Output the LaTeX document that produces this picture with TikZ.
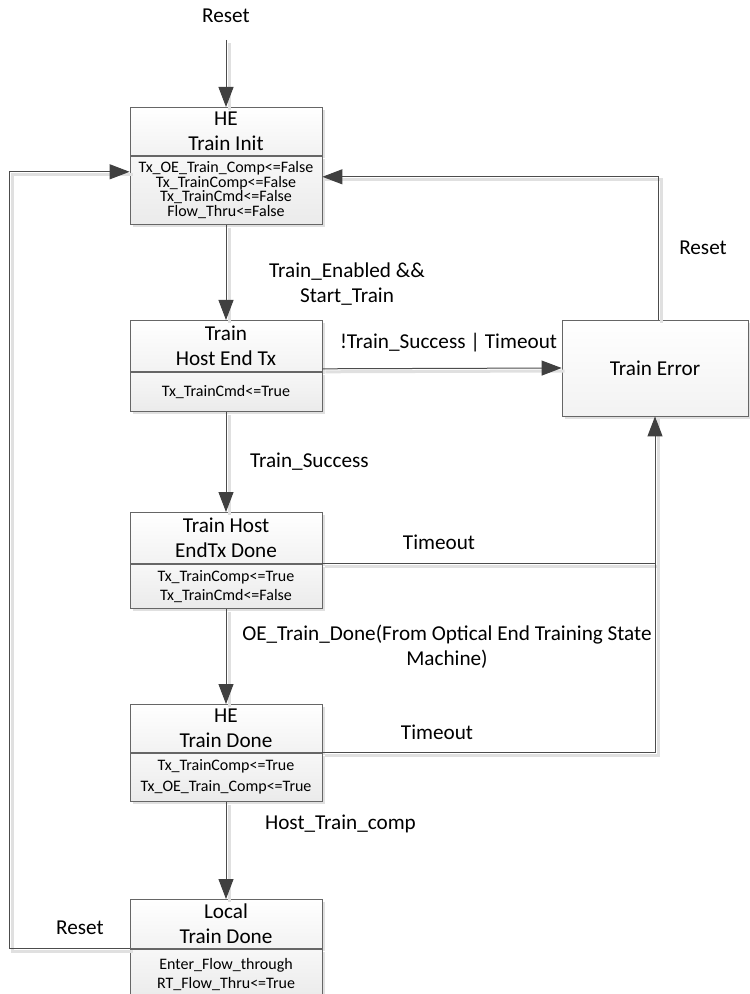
\documentclass[tikz,border=0pt]{standalone}
\usepackage{fontspec}
\setmainfont{Carlito}
\usetikzlibrary{arrows.meta,shadows}
\tikzset{
	titlebox/.style={draw=black!60, top color=white, bottom color=black!5, minimum width=96pt, inner sep=0pt, align=center, anchor=north, font=\fontsize{10.6}{12.5}\selectfont, drop shadow={shadow xshift=1.5pt, shadow yshift=-1.5pt, fill=black!12, opacity=1}},
	attrbox/.style={titlebox, top color=black!3, bottom color=black!8, font=\fontsize{8}{9.5}\selectfont},
	trans/.style={draw=black!70, line width=0.5pt, -{Triangle[length=10pt,width=7.5pt,fill=black!75,color=black!75]}, preaction={draw=black!12, line width=1.5pt, -, transform canvas={shift={(1.5pt,-1.5pt)}}}},
	link/.style={trans, -},
	lbl/.style={font=\fontsize{10.6}{12.5}\selectfont, align=center}
}
\begin{document}
\begin{tikzpicture}[x=0.5pt,y=-0.5pt]
	\useasboundingbox (0,0) rectangle (749,994);
	\node[titlebox, minimum height=24pt] (init) at (226,107) {HE\\Train Init};
	\node[attrbox, minimum height=34pt, font=\fontsize{8}{7.25}\selectfont] (initA) at (init.south) {Tx\_OE\_Train\_Comp<=False\\Tx\_TrainComp<=False\\Tx\_TrainCmd<=False\\Flow\_Thru<=False};
	\node[titlebox, minimum height=25.5pt] (host) at (226,320) {Train\\Host End Tx};
	\node[attrbox, minimum height=19.5pt] (hostA) at (host.south) {Tx\_TrainCmd<=True};
	\node[titlebox, minimum height=25.5pt] (txdone) at (226,512) {Train Host\\EndTx Done};
	\node[attrbox, minimum height=22pt] (txdoneA) at (txdone.south) {Tx\_TrainComp<=True\\Tx\_TrainCmd<=False};
	\node[titlebox, minimum height=24pt] (hedone) at (226,704) {HE\\Train Done};
	\node[attrbox, minimum height=24pt, font=\fontsize{8}{10.5}\selectfont] (hedoneA) at (hedone.south) {Tx\_TrainComp<=True\\Tx\_OE\_Train\_Comp<=True};
	\node[titlebox, minimum height=24.5pt] (local) at (226,899) {Local\\Train Done};
	\node[attrbox, minimum height=25pt] (localA) at (local.south) {Enter\_Flow\_through\\RT\_Flow\_Thru<=True};
	\node[titlebox, anchor=center, minimum width=93pt, minimum height=48pt] (error) at (655,368) {Train Error};

	\node[lbl] (reset) at (226,16) {Reset};
	\coordinate (resetin) at (226,40);
	\draw[trans] (resetin) -- (init);
	\draw[trans] (initA) -- (host);
	\draw[trans] (hostA) -- (txdone);
	\draw[trans] (txdoneA) -- (hedone);
	\draw[trans] (hedoneA) -- (local);
	\draw[trans] ([yshift=1.5pt]host.south east) -- (error.west);
	\draw[link] (txdone.south east) -- (txdone.south east -| error.south);
	\draw[trans] (hedone.south east) -| (error.south);
	\draw[trans] ([xshift=1.5pt]error.north) |- ([yshift=-10.5pt]initA.north east);
	\draw[trans] (local.south west) -- ++(-120,0) |- ([yshift=-8pt]initA.north west);

	\node[lbl] (lenable) at (347,284) {Train\_Enabled \&\&\\Start\_Train};
	\node[lbl, anchor=west] (lfail) at (333,343) {!Train\_Success | Timeout};
	\node[lbl, anchor=west] (lsuccess) at (243,462) {Train\_Success};
	\node[lbl] (ltimeouta) at (439,542) {Timeout};
	\node[lbl] (loedone) at (447,647) {OE\_Train\_Done(From Optical End Training State\\Machine)};
	\node[lbl] (ltimeoutb) at (437,732) {Timeout};
	\node[lbl, anchor=west] (lhostcomp) at (258,824) {Host\_Train\_comp};
	\node[lbl] (lresetl) at (80,928) {Reset};
	\node[lbl] (lresetr) at (703,248) {Reset};
\end{tikzpicture}
\end{document}
